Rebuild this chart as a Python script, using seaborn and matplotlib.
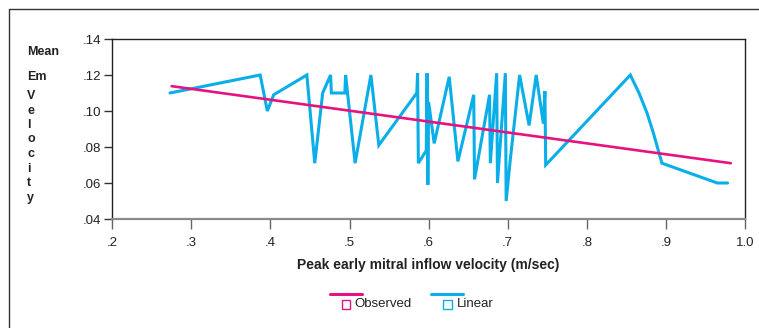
import matplotlib
matplotlib.use("Agg")
import matplotlib.pyplot as plt
import seaborn as sns
import pandas as pd
from matplotlib.lines import Line2D
from matplotlib.patches import Rectangle

# ---- data ----
linear_x = [0.273, 0.387, 0.396, 0.404, 0.446, 0.456, 0.466, 0.476, 0.477, 0.494,
            0.495, 0.507, 0.527, 0.537, 0.585, 0.586, 0.587, 0.597, 0.598, 0.599,
            0.600, 0.607, 0.626, 0.637, 0.657, 0.658, 0.677, 0.678, 0.686, 0.687,
            0.697, 0.698, 0.703, 0.715, 0.727, 0.736, 0.745, 0.747, 0.748, 0.855,
            0.866, 0.876, 0.884, 0.895, 0.965, 0.978]
linear_y = [0.110, 0.120, 0.100, 0.109, 0.120, 0.071, 0.110, 0.120, 0.110, 0.110,
            0.120, 0.071, 0.120, 0.081, 0.110, 0.121, 0.071, 0.078, 0.121, 0.059,
            0.105, 0.082, 0.119, 0.072, 0.109, 0.062, 0.109, 0.071, 0.121, 0.060,
            0.121, 0.050, 0.072, 0.120, 0.092, 0.120, 0.093, 0.111, 0.070, 0.120,
            0.110, 0.099, 0.088, 0.071, 0.060, 0.060]
observed_x = [0.275, 0.982]
observed_y = [0.1138, 0.0710]

x_ticks = [0.2, 0.3, 0.4, 0.5, 0.6, 0.7, 0.8, 0.9, 1.0]
x_ticklabels = [".2", ".3", ".4", ".5", ".6", ".7", ".8", ".9", "1.0"]
y_ticks = [0.04, 0.06, 0.08, 0.10, 0.12, 0.14]
y_ticklabels = [".04", ".06", ".08", ".10", ".12", ".14"]

PINK = "#E6127F"
BLUE = "#0AAEE8"

sns.set_theme(style="white")
plt.rcParams["font.family"] = ["Liberation Sans", "DejaVu Sans"]

W, H = 759, 328
fig = plt.figure(figsize=(W / 100, H / 100), dpi=100)
ax = fig.add_axes([112.3 / W, 1 - 219 / H, (745 - 112.3) / W, (219 - 39) / H])

df_lin = pd.DataFrame({"x": linear_x, "y": linear_y})
df_obs = pd.DataFrame({"x": observed_x, "y": observed_y})
sns.lineplot(data=df_lin, x="x", y="y", sort=False, estimator=None, color=BLUE,
             lw=2.2, ax=ax, solid_joinstyle="miter")
sns.lineplot(data=df_obs, x="x", y="y", sort=False, estimator=None, color=PINK,
             lw=1.9, ax=ax)

ax.set_xlim(0.2, 1.0)
ax.set_ylim(0.04, 0.14)
ax.set_xticks(x_ticks)
ax.set_xticklabels(x_ticklabels)
ax.set_yticks(y_ticks)
ax.set_yticklabels(y_ticklabels)
ax.set_xlabel("")
ax.set_ylabel("")

for side in ["left", "top", "right"]:
    ax.spines[side].set_visible(True)
    ax.spines[side].set_color("#222222")
    ax.spines[side].set_linewidth(1.0)
ax.spines["bottom"].set_color("#8a8a8a")
ax.spines["bottom"].set_linewidth(1.6)

ax.tick_params(axis="y", which="major", direction="out", length=6, width=1.0,
               color="#333333", labelsize=9.5, labelcolor="#222222", pad=2, left=True)
ax.tick_params(axis="x", which="major", direction="out", length=7, width=1.0,
               color="#666666", labelsize=9.5, labelcolor="#222222", pad=6, bottom=True)

# x-axis title
fig.text(428.5 / W, 1 - 265 / H, "Peak early mitral inflow velocity (m/sec)",
         ha="center", va="center", fontsize=10, fontweight="bold", color="#222222")

# y-axis title (stacked)
fig.text(27 / W, 1 - 52 / H, "Mean", ha="left", va="center", fontsize=9,
         fontweight="bold", color="#222222")
fig.text(27 / W, 1 - 77 / H, "Em", ha="left", va="center", fontsize=9,
         fontweight="bold", color="#222222")
for i, ch in enumerate("Velocity"):
    fig.text(27 / W, 1 - (96 + i * 14.5) / H, ch, ha="left", va="center",
             fontsize=9, fontweight="bold", color="#222222")

# figure frame
fig.add_artist(Line2D([9 / W, 9 / W, 1.0], [0.0, 1 - 9 / H, 1 - 9 / H],
                      transform=fig.transFigure, color="#333333", lw=1.0))

# legend (custom)
def legend_item(x0, x1, sq_x, tx, label, color):
    fig.add_artist(Line2D([x0 / W, x1 / W], [1 - 294 / H, 1 - 294 / H],
                          transform=fig.transFigure, color=color, lw=2.2))
    fig.add_artist(Rectangle((sq_x / W, 1 - 308.5 / H), 8.5 / W, 8.5 / H,
                             transform=fig.transFigure, fill=False,
                             edgecolor=color, lw=1.0))
    fig.text(tx / W, 1 - 304 / H, label, ha="left", va="center", fontsize=9.5,
             color="#222222")

legend_item(330, 362, 341.5, 354, "Observed", PINK)
legend_item(431, 463, 443, 457, "Linear", BLUE)

fig.savefig("out.png", dpi=100)
